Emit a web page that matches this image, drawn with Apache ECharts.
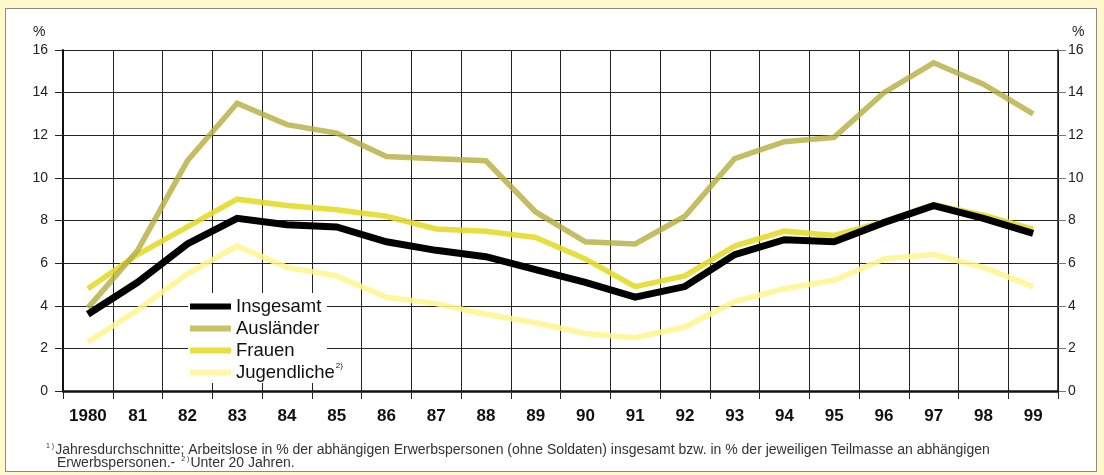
<!DOCTYPE html>
<html><head><meta charset="utf-8">
<script src="https://cdn.jsdelivr.net/npm/echarts@6/dist/echarts.min.js"></script>
<style>
html,body{margin:0;padding:0;background:#FFF8CC;}
#wrap{position:absolute;left:5px;top:8px;width:1092px;height:464px;background:#fff;border:1px solid #8a8a80;box-sizing:border-box;}
#c{position:absolute;left:0;top:0;width:1104px;height:475px;}
</style></head>
<body>
<div id="wrap"></div>
<div id="c"></div>
<script>
const years = ['1980','81','82','83','84','85','86','87','88','89','90','91','92','93','94','95','96','97','98','99'];
const insgesamt   = [3.6, 5.1, 6.9, 8.1, 7.8, 7.7, 7.0, 6.6, 6.3, 5.7, 5.1, 4.4, 4.9, 6.4, 7.1, 7.0, 7.9, 8.7, 8.1, 7.4];
const auslaender  = [3.9, 6.6, 10.8, 13.5, 12.5, 12.1, 11.0, 10.9, 10.8, 8.4, 7.0, 6.9, 8.2, 10.9, 11.7, 11.9, 14.0, 15.4, 14.4, 13.0];
const frauen      = [4.8, 6.4, 7.7, 9.0, 8.7, 8.5, 8.2, 7.6, 7.5, 7.2, 6.2, 4.9, 5.4, 6.8, 7.5, 7.3, 7.95, 8.75, 8.25, 7.6];
const jugendliche = [2.3, 3.8, 5.5, 6.8, 5.8, 5.4, 4.4, 4.1, 3.6, 3.2, 2.7, 2.5, 3.0, 4.2, 4.8, 5.2, 6.2, 6.4, 5.8, 4.9];
const yTicks = [0, 2, 4, 6, 8, 10, 12, 14, 16];
const seriesNames = ['Insgesamt', 'Ausländer', 'Frauen', 'Jugendliche'];
const footLine1 = 'Jahresdurchschnitte; Arbeitslose in % der abhängigen Erwerbspersonen (ohne Soldaten) insgesamt bzw. in % der jeweiligen Teilmasse an abhängigen';
const footLine2a = 'Erwerbspersonen.-';
const footLine2b = 'Unter 20 Jahren.';

const FONT = '"Liberation Sans", Arial, Helvetica, sans-serif';
const chart = echarts.init(document.getElementById('c'), null, {renderer:'canvas'});

const yMin = yTicks[0], yMax = yTicks[yTicks.length-1], yInt = yTicks[1]-yTicks[0];

function yAxisDef(pos, showSplit){
  return {
    type:'value', position:pos, min:yMin, max:yMax, interval:yInt,
    axisLine:{show:true, lineStyle:{color:'#111', width: pos==='left'?2:1.5}},
    axisTick:{show:true, inside:false, length:8, lineStyle:{color: pos==='left'?'#222':'#777', width:1}},
    axisLabel:{color:'#222', fontFamily:FONT, fontSize:14, margin: pos==='left'?15:10},
    splitLine:{show:showSplit, lineStyle:{color:'#222', width:1}}
  };
}

const colors = {
  'Insgesamt':'#000000',
  'Ausländer':'rgba(180,172,60,0.8)',
  'Frauen':'rgba(228,219,40,0.88)',
  'Jugendliche':'rgba(255,244,140,0.85)'
};
const legendColors = {
  'Insgesamt':'#000000',
  'Ausländer':'#C9C268',
  'Frauen':'#E8E040',
  'Jugendliche':'#FFF8A8'
};
const widths = {'Insgesamt':7,'Ausländer':5.5,'Frauen':5.5,'Jugendliche':5.5};
const zs = {'Insgesamt':10,'Ausländer':6,'Frauen':5,'Jugendliche':4};
const dataMap = {'Insgesamt':insgesamt,'Ausländer':auslaender,'Frauen':frauen,'Jugendliche':jugendliche};

chart.setOption({
  animation:false,
  backgroundColor:'transparent',
  grid:{left:63, right:46, top:50, bottom:84, containLabel:false},
  xAxis:{
    type:'category', data:years, boundaryGap:true,
    axisLine:{show:true, onZero:false, lineStyle:{color:'#111', width:2.5}},
    axisTick:{show:true, inside:false, length:8, alignWithLabel:false, interval:0, lineStyle:{color:'#222', width:1}},
    axisLabel:{interval:0, color:'#111', fontFamily:FONT, fontSize:17, fontWeight:'bold', margin:17},
    splitLine:{show:true, interval:0, lineStyle:{color:'#222', width:1}}
  },
  yAxis:[yAxisDef('left', true), yAxisDef('right', false)],
  legend:{
    orient:'vertical', left:188, top:294, z:5,
    data: seriesNames.map(n => ({name:n, itemStyle:{color:legendColors[n]}})),
    icon:'rect', itemWidth:41, itemHeight:6, itemGap:1,
    padding:[2, 4, 2, 2],
    selectedMode:false,
    formatter: n => n === 'Jugendliche' ? '{t|' + n + '}{s|2)}' : '{t|' + n + '}',
    textStyle:{
      fontFamily:FONT, fontSize:18.5, color:'#111', lineHeight:21,
      rich:{
        t:{fontFamily:FONT, fontSize:18.5, color:'#111', lineHeight:21},
        s:{fontFamily:FONT, fontSize:8, color:'#111', verticalAlign:'top', lineHeight:21, padding:[0,0,8,1]}
      }
    }
  },
  series: seriesNames.map(n => ({
    name:n, type:'line', data:dataMap[n], yAxisIndex:0,
    symbol:'none', smooth:false, z:zs[n],
    lineStyle:{color:colors[n], width:widths[n], join:'miter'},
    itemStyle:{color:legendColors[n]}
  })),
  graphic:[
    {type:'rect', z:3, shape:{x:188, y:293, width:139, height:90}, style:{fill:'#fff'}},
    {type:'text', left:33, top:25, style:{text:'%', font:'14px '+FONT, fill:'#222'}},
    {type:'text', left:1072, top:25, style:{text:'%', font:'14px '+FONT, fill:'#222'}},
    {type:'text', left:46, top:443, style:{
      text:'{s|1 )}{t|' + footLine1 + '}',
      rich:{
        s:{fontFamily:FONT, fontSize:7, fill:'#333', verticalAlign:'top', padding:[0,1,7,0]},
        t:{fontFamily:FONT, fontSize:14, fill:'#333', lineHeight:14}
      }
    }},
    {type:'text', left:57, top:456, style:{
      text:'{t|' + footLine2a + '}{g|}{s|2 )}{t|' + footLine2b + '}',
      rich:{
        s:{fontFamily:FONT, fontSize:7, fill:'#333', verticalAlign:'top', padding:[0,1,7,0]},
        g:{width:6},
        t:{fontFamily:FONT, fontSize:14, fill:'#333', lineHeight:14}
      }
    }}
  ]
});
</script>
</body></html>
